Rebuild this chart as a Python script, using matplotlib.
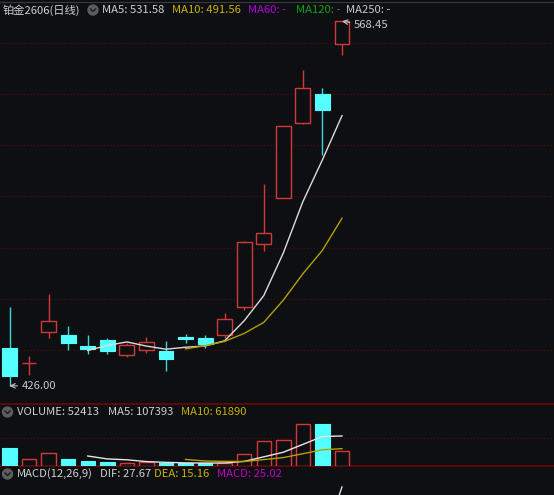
"""
铂金2606 日线K线图：主图K线+均线，成交量，MACD
"""

import matplotlib.pyplot as plt
import matplotlib.patches as mpatches
import numpy as np
import pandas as pd

plt.rcParams['font.family'] = ['Noto Sans CJK SC', 'DejaVu Sans']
plt.rcParams['axes.unicode_minus'] = False

# K线数据
opens = [440.7, 435.0, 447.1, 445.9, 441.7, 443.8, 437.9, 439.9, 439.7,
         445.2, 444.6, 445.7, 456.8, 481.4, 499.5, 528.6, 540.1, 559.7]
highs = [456.9, 437.6, 461.9, 449.5, 445.9, 444.6, 442.6, 445.0, 443.5,
         446.2, 445.9, 454.6, 482.5, 505.0, 527.5, 549.6, 542.3, 568.45]
lows = [426.0, 430.2, 444.6, 440.0, 438.4, 438.4, 437.4, 438.7, 431.9,
        442.6, 440.9, 444.6, 455.6, 478.8, 499.3, 528.4, 516.2, 555.2]
closes = [429.9, 435.0, 451.2, 442.6, 440.4, 439.7, 441.9, 443.1, 436.5,
          444.2, 442.2, 452.0, 482.3, 485.6, 527.5, 542.5, 533.8, 568.45]
volumes = [65400, 25000, 45300, 23900, 18900, 13200, 9600, 13200, 9800,
           9800, 9800, 11000, 42000, 91000, 92000, 150000, 151000, 52413]

# MACD 只露出最后一小段
dif_idx = [16, 17]
dif_tail = [16.5, 27.67]

BG = '#0e0f12'
RED = '#d23838'
CYAN = '#54ffff'
CYAN_WICK = '#3fd8d8'
GRID = '#4e0c0c'
SEP = '#5a0808'
TXT = '#d0d0d0'
YEL = '#c8b400'
FS = 8.1

W, H = 554, 495
fig = plt.figure(figsize=(W / 100, H / 100), dpi=100, facecolor=BG)

ax_k = fig.add_axes([0, 91 / H, 1, 402 / H], facecolor=BG)
ax_v = fig.add_axes([0, 29 / H, 1, 62 / H], facecolor=BG)
ax_m = fig.add_axes([0, 0, 1, 29 / H], facecolor=BG)

x = np.arange(len(closes))
xlim = (-0.486, 27.84)
o = np.array(opens)
c = np.array(closes)
hi = np.array(highs)
lo = np.array(lows)
up = c >= o

# ============ 主图 ============
body_w = 0.76
top = np.maximum(o, c)
bot = np.minimum(o, c)
ax_k.vlines(x[up], top[up], hi[up], color=RED, lw=1.0, zorder=2)
ax_k.vlines(x[up], lo[up], bot[up], color=RED, lw=1.0, zorder=2)
ax_k.vlines(x[~up], lo[~up], hi[~up], color=CYAN_WICK, lw=1.0, zorder=2)
ax_k.bar(x[up], top[up] - bot[up], body_w, bottom=bot[up],
         facecolor=BG, edgecolor=RED, lw=1.0, zorder=3)
ax_k.bar(x[~up], top[~up] - bot[~up], body_w, bottom=bot[~up],
         facecolor=CYAN, edgecolor=CYAN, lw=0.8, zorder=3)

ma5 = pd.Series(closes).rolling(5).mean()
ma10 = pd.Series(closes).rolling(10).mean()
ax_k.plot(x, ma5, color='#dcdcdc', lw=1.0, zorder=4)
ax_k.plot(x, ma10, color='#b4a000', lw=1.0, zorder=4)

i_hi = int(np.argmax(hi))
i_lo = int(np.argmin(lo))
ax_k.annotate(f'{hi[i_hi]:.2f}', xy=(x[i_hi], hi[i_hi]), xytext=(12, -4),
              textcoords='offset pixels', ha='left', va='center',
              fontsize=FS, color='#c8c8c8',
              arrowprops=dict(arrowstyle='->', color='#c8c8c8', lw=0.8,
                              shrinkA=1, shrinkB=0))
ax_k.annotate(f'{lo[i_lo]:.2f}', xy=(x[i_lo], lo[i_lo]), xytext=(12, 0),
              textcoords='offset pixels', ha='left', va='center',
              fontsize=FS, color='#c8c8c8',
              arrowprops=dict(arrowstyle='->', color='#c8c8c8', lw=0.8,
                              shrinkA=1, shrinkB=0))

ax_k.set_xlim(*xlim)
ax_k.set_ylim(418.9, 576.0)
ax_k.set_yticks(np.arange(440, 561, 20))
ax_k.grid(True, axis='y', color=GRID, lw=1.0, ls=(0, (0.8, 1.6)))
ax_k.tick_params(left=False, bottom=False, labelleft=False, labelbottom=False)
for s in ['left', 'right', 'bottom']:
    ax_k.spines[s].set_visible(False)
ax_k.spines['top'].set_color('#3a3a3a')

# ============ 成交量 ============
ax_v.bar(x[up], np.array(volumes)[up], 0.74, facecolor=BG, edgecolor=RED,
         lw=1.0, zorder=3)
ax_v.bar(x[~up], np.array(volumes)[~up], 0.74, facecolor=CYAN,
         edgecolor=CYAN, lw=0.8, zorder=3)
vma5 = pd.Series(volumes).rolling(5).mean()
vma10 = pd.Series(volumes).rolling(10).mean()
ax_v.plot(x, vma5, color='#e6e6e6', lw=1.0, zorder=4)
ax_v.plot(x, vma10, color='#b4a000', lw=1.0, zorder=4)
ax_v.set_xlim(*xlim)
ax_v.set_ylim(0, 221400)
ax_v.set_yticks([100000])
ax_v.grid(True, axis='y', color=GRID, lw=1.0, ls=(0, (0.8, 1.6)))
ax_v.tick_params(left=False, bottom=False, labelleft=False, labelbottom=False)
ax_v.spines['left'].set_visible(False)
ax_v.spines['right'].set_visible(False)
for s in ['top', 'bottom']:
    ax_v.spines[s].set_color(SEP)
    ax_v.spines[s].set_linewidth(1.5)

# ============ MACD ============
ax_m.plot(dif_idx, dif_tail, color='#e0e0e0', lw=1.0)
ax_m.set_xlim(*xlim)
ax_m.set_ylim(26.07, 31.87)
ax_m.axis('off')

# ============ 文字标题（像素坐标）============
ov = fig.add_axes([0, 0, 1, 1], facecolor='none')
ov.set_xlim(0, W)
ov.set_ylim(H, 0)
ov.axis('off')


def icon(cx, cy):
    ov.add_patch(mpatches.Circle((cx, cy), 5, color='#5c5c5c', zorder=5))
    ov.plot([cx - 2.5, cx, cx + 2.5], [cy - 1, cy + 1.5, cy - 1],
            color='#1c1c1c', lw=1.0, zorder=6)


def label(px, py, s, color):
    ov.text(px, py, s, color=color, fontsize=FS, ha='left', va='center')


label(3, 10, '铂金2606(日线)', TXT)
icon(93, 10)
label(102, 10, 'MA5: 531.58', TXT)
label(172, 10, 'MA10: 491.56', YEL)
label(248, 10, 'MA60: -', '#b000e0')
label(296, 10, 'MA120: -', '#10a010')
label(346, 10, 'MA250: -', '#c8c8c8')

icon(7.5, 412)
label(17, 412, 'VOLUME: 52413', TXT)
label(108, 412, 'MA5: 107393', TXT)
label(181, 412, 'MA10: 61890', YEL)

icon(7.5, 474)
label(17, 474, 'MACD(12,26,9)', TXT)
label(100, 474, 'DIF: 27.67', TXT)
label(154, 474, 'DEA: 15.16', YEL)
label(217, 474, 'MACD: 25.02', '#c000c8')

fig.savefig('out.png', dpi=100, facecolor=BG)
